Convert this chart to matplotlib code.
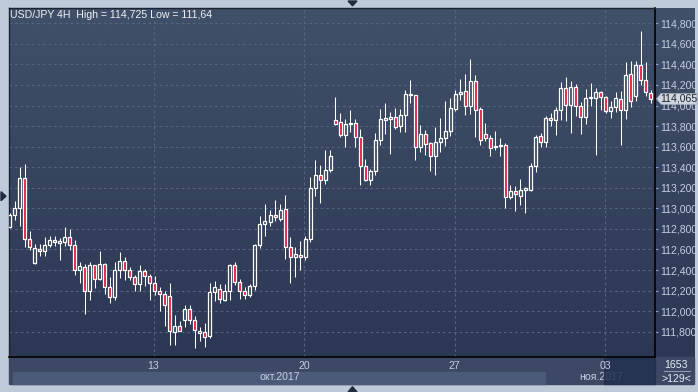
import matplotlib
matplotlib.use("Agg")
import matplotlib.pyplot as plt
import numpy as np
from matplotlib.patches import Rectangle, Polygon
from matplotlib.colors import LinearSegmentedColormap

W, H = 698, 392

# USD/JPY 4H candles
opens = [112.816, 112.940, 113.004, 113.300, 112.700, 112.470, 112.602, 112.583, 112.645, 112.690,
         112.668, 112.668, 112.720, 112.640, 112.400, 112.430, 112.194, 112.447, 112.317, 112.460,
         112.233, 112.136, 112.405, 112.490, 112.400, 112.330, 112.265, 112.390, 112.340, 112.270,
         112.194, 112.168, 112.148, 111.795, 111.860, 111.912, 112.025, 111.918, 111.810, 111.800,
         111.756, 112.184, 112.220, 112.110, 112.194, 112.447, 112.280, 112.200, 112.160, 112.243,
         112.640, 112.850, 112.870, 112.933, 112.900, 112.990, 112.628, 112.524, 112.550, 112.524,
         112.700, 113.200, 113.322, 113.273, 113.377, 113.857, 113.840, 113.717, 113.820, 113.830,
         113.695, 113.416, 113.273, 113.360, 113.664, 113.866, 113.870, 113.890, 113.800, 113.905,
         114.116, 114.100, 113.600, 113.727, 113.637, 113.507, 113.650, 113.685, 113.750, 113.970,
         114.110, 114.140, 114.000, 114.236, 113.965, 113.727, 113.680, 113.595, 113.610, 113.617,
         113.108, 113.170, 113.120, 113.180, 113.180, 113.410, 113.700, 113.643, 113.880, 113.857,
         113.960, 114.171, 114.009, 114.180, 114.000, 113.886, 114.070, 114.074, 114.130, 114.080,
         113.944, 113.986, 114.065, 113.955, 114.307, 114.090, 114.392, 114.246, 114.122]
highs = [112.950, 113.076, 113.400, 113.435, 112.777, 112.654, 112.654, 112.719, 112.735, 112.730,
         112.712, 112.820, 112.800, 112.690, 112.480, 112.463, 112.480, 112.450, 112.583, 112.470,
         112.330, 112.480, 112.573, 112.528, 112.430, 112.350, 112.447, 112.414, 112.366, 112.340,
         112.233, 112.200, 112.272, 111.960, 111.900, 112.064, 112.064, 111.950, 111.850, 111.886,
         112.275, 112.290, 112.260, 112.265, 112.460, 112.480, 112.310, 112.230, 112.265, 112.654,
         112.923, 113.043, 112.980, 113.082, 113.043, 113.127, 112.720, 112.620, 112.687, 112.730,
         113.306, 113.468, 113.420, 113.565, 113.565, 114.084, 113.928, 113.870, 113.957, 113.870,
         113.776, 113.480, 113.383, 113.734, 113.967, 114.025, 113.940, 113.977, 113.967, 114.148,
         114.246, 114.105, 113.808, 113.760, 113.650, 113.792, 113.880, 114.040, 114.074, 114.148,
         114.259, 114.307, 114.453, 114.294, 113.990, 113.831, 113.717, 113.750, 113.685, 113.640,
         113.230, 113.215, 113.286, 113.205, 113.440, 113.717, 113.734, 113.896, 113.930, 113.986,
         114.230, 114.278, 114.242, 114.210, 114.035, 114.165, 114.220, 114.171, 114.145, 114.090,
         114.040, 114.132, 114.140, 114.424, 114.430, 114.430, 114.722, 114.424, 114.155]
lows = [112.810, 112.888, 112.826, 112.625, 112.593, 112.460, 112.534, 112.534, 112.620, 112.630,
        112.500, 112.630, 112.590, 112.356, 112.270, 111.977, 112.110, 112.226, 112.300, 112.170,
        112.077, 112.106, 112.323, 112.307, 112.300, 112.200, 112.200, 112.249, 112.110, 112.160,
        112.000, 111.860, 111.675, 111.675, 111.805, 111.844, 111.876, 111.640, 111.710, 111.650,
        111.740, 112.097, 112.080, 112.103, 112.110, 112.250, 112.120, 112.120, 112.135, 112.210,
        112.610, 112.735, 112.830, 112.875, 112.875, 112.512, 112.275, 112.330, 112.405, 112.500,
        112.670, 113.124, 113.053, 113.240, 113.354, 113.808, 113.695, 113.597, 113.743, 113.597,
        113.231, 113.263, 113.231, 113.328, 113.620, 113.724, 113.533, 113.776, 113.743, 113.740,
        114.025, 113.474, 113.549, 113.523, 113.360, 113.328, 113.549, 113.610, 113.700, 113.950,
        114.050, 113.905, 113.918, 113.695, 113.620, 113.653, 113.513, 113.571, 113.513, 113.004,
        113.095, 112.978, 113.037, 112.950, 113.170, 113.354, 113.594, 113.594, 113.800, 113.717,
        113.863, 113.853, 113.734, 113.896, 113.727, 113.820, 114.000, 113.523, 113.960, 113.930,
        113.880, 113.940, 113.620, 113.870, 113.990, 114.048, 114.197, 114.090, 114.025]
closes = [112.940, 113.004, 113.300, 112.700, 112.620, 112.610, 112.583, 112.648, 112.690, 112.675,
          112.676, 112.720, 112.640, 112.400, 112.437, 112.194, 112.447, 112.317, 112.463, 112.233,
          112.136, 112.405, 112.486, 112.400, 112.330, 112.265, 112.390, 112.340, 112.270, 112.194,
          112.168, 112.055, 111.805, 111.860, 111.810, 112.025, 111.918, 111.815, 111.790, 111.747,
          112.184, 112.233, 112.120, 112.194, 112.447, 112.280, 112.194, 112.160, 112.243, 112.640,
          112.852, 112.875, 112.933, 112.915, 112.985, 112.628, 112.524, 112.560, 112.524, 112.700,
          113.199, 113.322, 113.273, 113.377, 113.507, 113.824, 113.717, 113.821, 113.830, 113.695,
          113.416, 113.273, 113.360, 113.669, 113.870, 113.872, 113.890, 113.789, 113.912, 114.116,
          114.100, 113.594, 113.727, 113.627, 113.507, 113.646, 113.685, 113.750, 113.977, 114.113,
          114.129, 113.999, 114.236, 113.960, 113.669, 113.680, 113.588, 113.610, 113.620, 113.108,
          113.166, 113.140, 113.180, 113.199, 113.410, 113.690, 113.643, 113.880, 113.857, 113.960,
          114.171, 114.009, 114.180, 114.000, 113.886, 114.074, 114.080, 114.129, 114.080, 113.944,
          113.986, 114.074, 113.960, 114.294, 114.048, 114.392, 114.246, 114.129, 114.065]

price_ticks = [111.8, 112.0, 112.2, 112.4, 112.6, 112.8, 113.0, 113.2,
               113.4, 113.6, 113.8, 114.0, 114.2, 114.4, 114.6, 114.8]
day_labels = ["13", "20", "27", "03"]
day_pos = [28.75, 58.8, 88.85, 118.95]
month_labels = ["окт.2017", "ноя.2017"]
month_px = [280, 601]
title = "USD/JPY 4H  High = 114,725 Low = 111,64"
last_price = 114.065

FONT = "Liberation Sans"
FS = 7.6
LABEL = "#c3cfe2"
RED = "#e3143c"

fig = plt.figure(figsize=(W / 100, H / 100), dpi=100)
fig.patch.set_facecolor("#bfcad9")

# pixel-space layer for the terminal chrome
bg = fig.add_axes([0, 0, 1, 1])
bg.set_xlim(0, W)
bg.set_ylim(H, 0)
bg.axis("off")

grad = LinearSegmentedColormap.from_list("g", ["#415069", "#2c3753"])
bg.imshow(np.linspace(0, 1, 256)[:, None], extent=[8.5, 694, 357.3, 8.3],
          cmap=grad, aspect="auto", zorder=0)

# date strip at the bottom
bg.add_patch(Rectangle((8.5, 357.3), 685.5, 27, color="#3c4864", zorder=1))
bg.add_patch(Rectangle((13, 371.5), 532, 12.5, color="#4b5a78", zorder=1))
bg.add_patch(Rectangle((604, 358), 51, 26, color="#233050", alpha=0.85, zorder=3))
bg.plot([664, 690], [371, 371], color="#8d9bb4", lw=0.8, zorder=2)
bg.text(676, 365, "1653", color="#e6ebf2", fontsize=FS, family=FONT,
        ha="center", va="center", zorder=4)
bg.text(676, 378.5, ">129<", color="#e6ebf2", fontsize=FS, family=FONT,
        ha="center", va="center", zorder=4)
for lab, xp in zip(month_labels, month_px):
    bg.text(xp, 377.5, lab, color=LABEL, fontsize=FS, family=FONT,
            ha="center", va="center", zorder=2)

# little scroll arrows on the frame
tri = "#222c40"
bg.add_patch(Polygon([(348, 1), (357, 1), (352.5, 5.8)], color=tri, zorder=5))
bg.add_patch(Polygon([(348, 392), (357, 392), (352.5, 386.7)], color=tri, zorder=5))
bg.add_patch(Polygon([(1, 191.7), (1, 200.7), (6, 196.2)], color=tri, zorder=5))

bg.text(10.5, 14.5, title, color="#eef1f6", fontsize=FS, family=FONT,
        ha="left", va="center", zorder=5)

# candle axes
ax = fig.add_axes([8.5 / W, 1 - 357.3 / H, (655 - 8.5) / W, (357.3 - 8.3) / H])
ax.patch.set_alpha(0)
ax.set_xlim(-0.2, 128.85)
ax.set_ylim(111.551, 114.946)

for i, (o, h, l, c) in enumerate(zip(opens, highs, lows, closes)):
    top, bot = max(o, c), min(o, c)
    if top - bot < 0.012:
        mid = (top + bot) / 2
        top, bot = mid + 0.006, mid - 0.006
    ax.plot([i, i], [top, h], color="white", lw=0.75, solid_capstyle="butt", zorder=3)
    ax.plot([i, i], [l, bot], color="white", lw=0.75, solid_capstyle="butt", zorder=3)
    ax.add_patch(Rectangle((i - 0.3, bot), 0.6, top - bot,
                           facecolor=RED if c < o else "none",
                           edgecolor="white", lw=0.9, zorder=4))

ax.set_yticks(price_ticks)
ax.set_yticklabels([f"{v:.3f}".replace(".", ",") for v in price_ticks])
ax.yaxis.tick_right()
ax.set_xticks(day_pos)
ax.set_xticklabels(day_labels)
ax.grid(True, color="#56637e", linestyle=(0, (2.5, 2.5)), lw=0.8, zorder=1)
ax.tick_params(axis="y", length=2, width=0.8, color="#7f9fd0", pad=1.5,
               labelsize=FS, labelcolor=LABEL)
ax.tick_params(axis="x", length=0, pad=3, labelsize=FS, labelcolor=LABEL)
for lab in ax.get_xticklabels() + ax.get_yticklabels():
    lab.set_family(FONT)

for side in ["right", "bottom"]:
    ax.spines[side].set_color("black")
    ax.spines[side].set_linewidth(1.2)
for side in ["top", "left"]:
    ax.spines[side].set_color("#1b2232")
    ax.spines[side].set_linewidth(1.0)

# last price marker on the scale
yl = 8.3 + (114.946 - last_price) / (114.946 - 111.551) * (357.3 - 8.3)
bg.add_patch(Polygon([(656.5, yl), (661, yl - 5.5), (697, yl - 5.5), (697, yl + 5.5), (661, yl + 5.5)],
                     facecolor="#d3d7de", edgecolor="#9aa3b3", lw=0.6, zorder=6))
bg.text(679, yl, f"{last_price:.3f}".replace(".", ","), color="#1e2636", fontsize=FS,
        family=FONT, ha="center", va="center", zorder=7)

fig.savefig("out.png", dpi=100, facecolor=fig.get_facecolor())
